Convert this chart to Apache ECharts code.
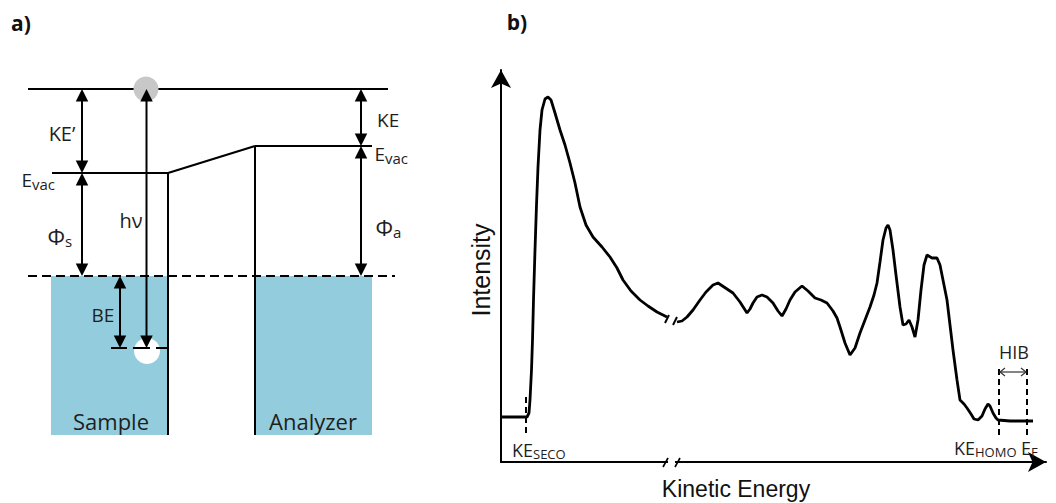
<!DOCTYPE html>
<html>
<head>
<meta charset="utf-8">
<script src="https://cdn.jsdelivr.net/npm/echarts@6/dist/echarts.min.js"></script>
<style>html,body{margin:0;padding:0;background:#fff}#c{width:1056px;height:503px}</style>
</head>
<body>
<div id="c"></div>
<script>
// ---------- Panel b: photoemission spectrum (arbitrary units) ----------
// segment below the axis break (secondary electron cut-off region)
const keLow = [0.2, 2.8, 5.0, 5.2, 5.6, 5.8, 6.1, 6.3, 6.5, 6.8, 7.1, 7.4, 7.8, 8.2, 8.8, 9.4, 10.0, 10.8, 11.8, 12.8, 13.8, 14.8, 15.8, 17.0, 18.4, 20.2, 21.8, 23.2, 24.4, 26.0, 27.8, 29.4, 31.2, 33.2];
const intensityLow = [11.25, 11.25, 11.25, 11.25, 12.25, 15.5, 23, 30.5, 40.5, 53, 64.25, 73.75, 83, 88, 90.75, 91.25, 90.5, 87.25, 83, 79.25, 74.75, 69.75, 63.75, 59.25, 56.25, 53.75, 51.25, 48.5, 45.5, 42.75, 40.5, 39, 37.5, 36.25];
// segment above the axis break (valence region)
const keHigh = [35.2, 36.2, 37.2, 38.4, 39.8, 41.0, 42.4, 43.4, 44.6, 46.4, 47.8, 49.2, 49.8, 50.4, 51.2, 52.2, 53.2, 54.4, 55.4, 56.2, 57.0, 57.8, 58.8, 60.2, 61.4, 62.8, 64.0, 65.2, 66.4, 67.2, 67.8, 68.8, 69.8, 70.8, 71.8, 72.8, 73.8, 74.6, 75.2, 75.8, 76.4, 77.0, 77.4, 77.8, 78.4, 79.0, 79.8, 80.4, 81.0, 81.6, 82.2, 82.8, 83.4, 84.0, 84.6, 85.2, 86.2, 87.2, 87.8, 88.6, 89.2, 89.8, 90.4, 91.2, 91.8, 92.6, 93.2, 94.0, 94.6, 95.4, 96.2, 96.8, 97.4, 97.8, 98.4, 99.0, 99.4, 101.8, 106.4];
const intensityHigh = [35, 35.25, 36.25, 38, 40.5, 42.5, 44.25, 44.75, 43.75, 42.25, 40, 37.25, 38.25, 39.75, 41.25, 41.75, 41.25, 39.75, 37.75, 36.5, 38.25, 40.5, 42.5, 44, 42.75, 41, 40.5, 39.75, 37.75, 36, 33.75, 29.75, 26.75, 28.5, 32.25, 35.5, 38.75, 41.75, 44.75, 50, 55.5, 58.5, 59.25, 58, 53, 46.75, 38.75, 34.25, 34.5, 35.5, 33.75, 31.25, 35.5, 43, 49.25, 51.75, 51, 51, 49.25, 44.25, 40.5, 34.25, 28, 20.5, 15.5, 14.5, 13.5, 12, 10.75, 10.5, 11.5, 13.25, 14.5, 14, 12.25, 11, 10.5, 10.25, 10.25];
// marked kinetic energies
const keSeco = 5.0;
const keHomo = 99.6;
const keFermi = 105.2;
const axisBreakKE = [33.4, 34.8];

// ---------- Panel a: energy levels (eV, relative to E_F) ----------
const eEmitted = 9.35;      // level of the photo-emitted electron
const eVacAnalyzer = 6.5;   // E_vac of the analyzer
const eVacSample = 5.15;    // E_vac of the sample
const eFermi = 0;           // common Fermi level
const eCore = -3.6;         // core level (BE = 3.6)
const eBottom = -7.95;      // bottom of the drawn blocks

const FONT = 'Open Sans';
const INK = '#1e1e1e';

function makeTools(api, kids) {
  const P = (x, y) => api.coord([x, y]);
  const t = {};
  t.P = P;
  t.seg = function (x1, y1, x2, y2, style) {
    const a = P(x1, y1), b = P(x2, y2);
    kids.push({type: 'line', shape: {x1: a[0], y1: a[1], x2: b[0], y2: b[1]},
      style: Object.assign({stroke: '#000', lineWidth: 2.2}, style || {})});
  };
  t.box = function (x1, y1, x2, y2, fill) {
    const a = P(x1, y1), b = P(x2, y2);
    kids.push({type: 'rect', shape: {x: Math.min(a[0], b[0]), y: Math.min(a[1], b[1]),
      width: Math.abs(b[0] - a[0]), height: Math.abs(b[1] - a[1])}, style: {fill: fill}});
  };
  t.disc = function (x, y, r, fill, dy) {
    const a = P(x, y);
    kids.push({type: 'circle', shape: {cx: a[0], cy: a[1] + (dy || 0), r: r}, style: {fill: fill}});
  };
  t.head = function (px, py, dx, dy, w, l) {
    const nx = -dy, ny = dx;
    kids.push({type: 'polygon', shape: {points: [[px, py],
      [px - dx * l + nx * w / 2, py - dy * l + ny * w / 2],
      [px - dx * l - nx * w / 2, py - dy * l - ny * w / 2]]}, style: {fill: '#000'}});
  };
  t.vArrow = function (x, yLow, yHigh) {
    const a = P(x, yLow), b = P(x, yHigh);
    const L = 12.5, W = 12.5;
    kids.push({type: 'line', shape: {x1: a[0], y1: a[1] - L * 0.6, x2: b[0], y2: b[1] + L * 0.6},
      style: {stroke: '#000', lineWidth: 2}});
    t.head(b[0], b[1], 0, -1, W, L);
    t.head(a[0], a[1], 0, 1, W, L);
  };
  t.label = function (x, y, str, o) {
    o = o || {};
    const a = P(x, y);
    kids.push({type: 'text', x: a[0] + (o.dx || 0), y: a[1] + (o.dy || 0), rotation: o.rot || 0,
      style: {text: str, fontSize: o.size || 19, fontFamily: o.family || FONT,
        fontWeight: o.weight || 'normal', fill: o.color || INK,
        align: o.align || 'center', verticalAlign: 'middle'}});
  };
  t.subLabel = function (x, y, main, sub, size, subSize, subDy) {
    t.label(x, y, main, {size: size, align: 'right'});
    t.label(x, y, sub, {size: subSize, align: 'left', dy: subDy});
  };
  return t;
}

function renderDiagram(params, api) {
  const kids = [];
  const t = makeTools(api, kids);
  const blue = '#93CDDD';
  // blocks
  t.box(5.1, eFermi, 16.8, eBottom, blue);
  t.box(25.5, eFermi, 37.2, eBottom, blue);
  // photo-hole
  t.disc(14.7, eCore, 13, '#ffffff', 3);
  // Fermi level (dashed)
  t.seg(2.8, eFermi, 39.5, eFermi, {lineDash: [9, 5], lineWidth: 2});
  // levels
  t.seg(2.8, eEmitted, 38.8, eEmitted);
  t.seg(5.2, eVacSample, 16.8, eVacSample);
  t.seg(16.8, eVacSample, 25.5, eVacAnalyzer);
  t.seg(25.5, eVacAnalyzer, 37.2, eVacAnalyzer);
  t.seg(16.8, eVacSample, 16.8, eBottom, {lineWidth: 2});
  t.seg(25.5, eVacAnalyzer, 25.5, eBottom, {lineWidth: 2});
  // core level marks
  t.seg(11.1, eCore, 12.7, eCore, {lineWidth: 2});
  t.seg(13.3, eCore, 15.0, eCore, {lineWidth: 2});
  t.seg(15.6, eCore, 16.8, eCore, {lineWidth: 2});
  // emitted electron
  t.disc(14.6, eEmitted, 12.5, '#c8c8c8', 0);
  // arrows
  t.vArrow(8.2, eVacSample, eEmitted);      // KE'
  t.vArrow(8.2, eFermi, eVacSample);        // Phi_s
  t.vArrow(14.65, eCore, eEmitted);         // h nu
  t.vArrow(12.0, eCore, eFermi);            // BE
  t.vArrow(36.1, eVacAnalyzer, eEmitted);   // KE
  t.vArrow(36.1, eFermi, eVacAnalyzer);     // Phi_a
  // labels
  t.label(2.1, 12.65, 'a)', {size: 21, weight: 'bold', color: '#111'});
  t.label(6.2, 7.15, 'KE\u2019', {size: 20});
  t.subLabel(3.2, 4.8, 'E', 'vac', 19, 15, 4);
  t.label(13.1, 2.8, 'h\u03bd', {size: 20});
  t.subLabel(6.5, 2.0, '\u03a6', 's', 22, 15, 5);
  t.label(37.7, 7.8, 'KE', {size: 19, align: 'left'});
  t.subLabel(38.5, 6.1, 'E', 'vac', 19, 15, 4);
  t.subLabel(39.3, 2.45, '\u03a6', 'a', 22, 15, 5);
  t.label(10.3, -1.95, 'BE', {size: 19});
  t.label(11.1, -7.25, 'Sample', {size: 22});
  t.label(31.3, -7.25, 'Analyzer', {size: 22});
  return {type: 'group', children: kids};
}

function renderSpectrumMarks(params, api) {
  const kids = [];
  const t = makeTools(api, kids);
  const dash = {lineDash: [6, 4], lineWidth: 2};
  t.seg(keSeco, 16.25, keSeco, 6.75, dash);
  t.seg(keHomo, 23.25, keHomo, 6.75, dash);
  t.seg(keFermi, 23.25, keFermi, 6.75, dash);
  // HIB double arrow with open heads
  const a = t.P(keHomo, 22.5), b = t.P(keFermi, 22.5);
  kids.push({type: 'line', shape: {x1: a[0] + 1, y1: a[1], x2: b[0] - 1, y2: b[1]}, style: {stroke: '#333', lineWidth: 1.2}});
  kids.push({type: 'polyline', shape: {points: [[a[0] + 6, a[1] - 4], [a[0] + 1, a[1]], [a[0] + 6, a[1] + 4]]}, style: {stroke: '#333', lineWidth: 1.2, fill: 'none'}});
  kids.push({type: 'polyline', shape: {points: [[b[0] - 6, b[1] - 4], [b[0] - 1, b[1]], [b[0] - 6, b[1] + 4]]}, style: {stroke: '#333', lineWidth: 1.2, fill: 'none'}});
  // axis break
  t.box(axisBreakKE[0], -0.7, axisBreakKE[1], 0.7, '#ffffff');
  t.seg(axisBreakKE[0] - 1.0, -1.25, axisBreakKE[0], 1.0, {lineWidth: 1.6});
  t.seg(axisBreakKE[1], -1.25, axisBreakKE[1] + 1.0, 1.0, {lineWidth: 1.6});
  // curve break ticks
  t.seg(32.8, 34.75, 33.6, 36.75, {lineWidth: 2});
  t.seg(34.4, 34.25, 35.2, 36.25, {lineWidth: 2});
  // labels
  t.label(3.2, 110, 'b)', {size: 21, weight: 'bold', color: '#111'});
  t.label(-4, 48, 'Intensity', {size: 25, family: 'Liberation Sans', rot: Math.PI / 2, color: '#111'});
  t.label(47, -6.75, 'Kinetic Energy', {size: 23, family: 'Liberation Sans', color: '#111'});
  t.subLabel(6.4, 3.0, 'KE', 'SECO', 18, 13, 4);
  t.label(102.6, 27.5, 'HIB', {size: 18});
  t.subLabel(94.8, 3.5, 'KE', 'HOMO', 18, 13, 4);
  t.subLabel(106.0, 3.5, 'E', 'F', 18, 13, 4);
  return {type: 'group', children: kids};
}

const hiddenAxis = {show: false};
const arrowAxisLine = {show: true, onZero: false, symbol: ['none', 'arrow'], symbolSize: [15, 18],
  lineStyle: {color: '#000', width: 2}};

const chart = echarts.init(document.getElementById('c'), null, {renderer: 'svg', width: 1056, height: 503});
chart.setOption({
  animation: false,
  backgroundColor: '#ffffff',
  grid: [
    {left: 0, top: 60, width: 420, height: 400},
    {left: 501, top: 70, width: 545, height: 392}
  ],
  xAxis: [
    Object.assign({gridIndex: 0, type: 'value', min: 0, max: 42}, hiddenAxis),
    {gridIndex: 1, type: 'value', min: 0, max: 109, axisLine: arrowAxisLine,
      axisTick: {show: false}, axisLabel: {show: false}, splitLine: {show: false}}
  ],
  yAxis: [
    Object.assign({gridIndex: 0, type: 'value', min: -9.2, max: 10.8}, hiddenAxis),
    {gridIndex: 1, type: 'value', min: 0, max: 98, axisLine: arrowAxisLine,
      axisTick: {show: false}, axisLabel: {show: false}, splitLine: {show: false}}
  ],
  series: [
    {type: 'custom', xAxisIndex: 0, yAxisIndex: 0, data: [[0, 0]], renderItem: renderDiagram, silent: true, clip: false},
    {type: 'line', xAxisIndex: 1, yAxisIndex: 1, data: keLow.map((k, i) => [k, intensityLow[i]]),
      symbol: 'none', lineStyle: {color: '#000', width: 2.8}, silent: true, z: 3},
    {type: 'line', xAxisIndex: 1, yAxisIndex: 1, data: keHigh.map((k, i) => [k, intensityHigh[i]]),
      symbol: 'none', lineStyle: {color: '#000', width: 2.8}, silent: true, z: 3},
    {type: 'custom', xAxisIndex: 1, yAxisIndex: 1, data: [[0, 0]], renderItem: renderSpectrumMarks, silent: true, clip: false, z: 4}
  ]
});
</script>
</body>
</html>
